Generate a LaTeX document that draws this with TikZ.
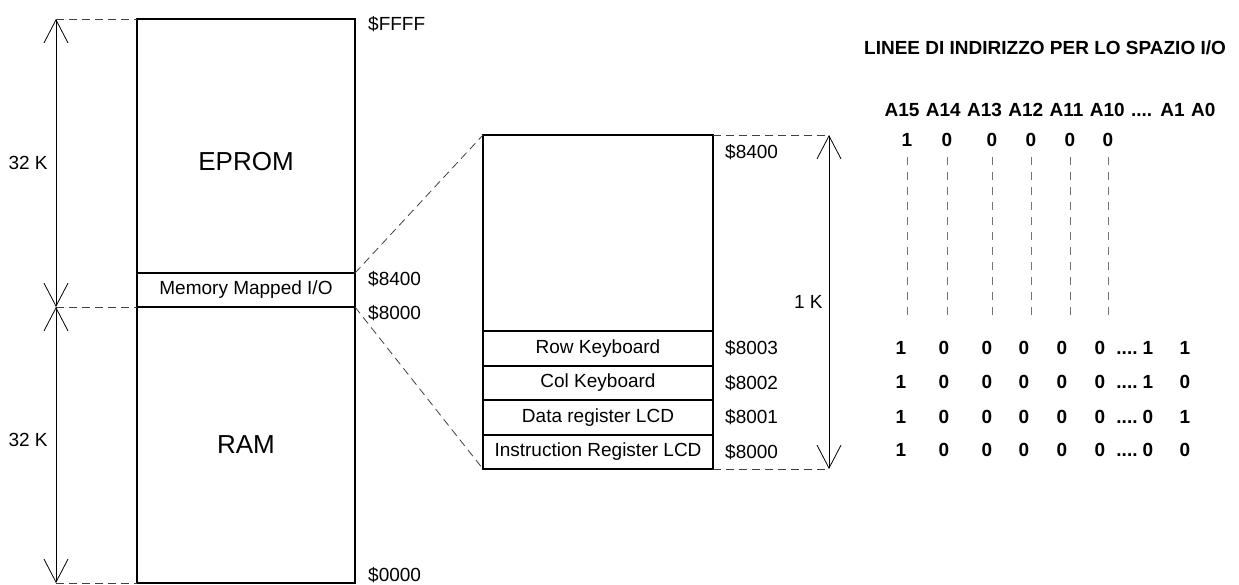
\documentclass[tikz,border=0pt]{standalone}
\usepackage{fontspec}
\setmainfont{Liberation Sans}
\usepackage{xcolor}
\usepackage{tikz}
\usetikzlibrary{arrows.meta, positioning}

\newcommand{\txtfont}{\fontsize{19}{22}\selectfont}
\newcommand{\bigtxtfont}{\fontsize{26}{30}\selectfont}
\newcommand{\fourdots}{....}

\tikzset{
    memblock/.style={draw, line width=2pt, outer sep=0pt, inner sep=0pt, font=\txtfont},
    addr/.style={inner sep=0pt, font=\txtfont},
    dimarrow/.style={line width=0.8pt,
        {Straight Barb[length=23pt,width=24pt]}-{Straight Barb[length=23pt,width=24pt]}},
    helpline/.style={dashed, dash pattern=on 8pt off 5pt, line width=0.8pt, black!75},
    guide/.style={dash pattern=on 8pt off 7pt, line width=1pt, black!55},
    bit/.style={inner sep=0pt, text height=13.6pt, text depth=0pt, font=\txtfont\bfseries}
}

\begin{document}
\begin{tikzpicture}[x=1pt, y=-1pt]
    \useasboundingbox (0,0) rectangle (1239,584);

    % memory map
    \node[memblock, minimum width=218pt, minimum height=254pt, anchor=north west,
        label={[font=\bigtxtfont, yshift=-16pt]center:EPROM}] (eprom) at (137,19) {};
    \node[memblock, minimum width=218pt, minimum height=34pt] (mmio) [below=0pt of eprom] {Memory Mapped I/O};
    \node[memblock, minimum width=218pt, minimum height=276pt, font=\bigtxtfont] (ram) [below=0pt of mmio] {RAM};

    \node[addr, anchor=west] (aFFFF) at ([shift={(13,5)}]eprom.north east) {\$FFFF};
    \node[addr, anchor=west] (a8400) at ([shift={(13,6)}]mmio.north east) {\$8400};
    \node[addr, anchor=west] (a8000) at ([shift={(13,6)}]ram.north east) {\$8000};
    \node[addr, anchor=west] (a0000) at ([shift={(13,-8)}]ram.south east) {\$0000};

    \coordinate[left=81pt of eprom.north west] (d0);
    \coordinate[left=81pt of ram.north west] (d1);
    \coordinate[left=81pt of ram.south west] (d2);
    \draw[helpline] (d0) -- (eprom.north west)
        (d1) -- (ram.north west)
        (d2) -- (ram.south west);
    \draw[dimarrow] (d0) -- node[addr, left=8pt] {32 K} (d1);
    \draw[dimarrow] (d1) -- node[addr, left=8pt, yshift=5pt] {32 K} (d2);

    % I/O space
    \node[memblock, minimum width=230pt, minimum height=196pt, anchor=north west] (iospace) at (483,135) {};
    \node[memblock, minimum width=230pt, minimum height=34.5pt] (rowkb) [below=0pt of iospace] {Row Keyboard};
    \node[memblock, minimum width=230pt, minimum height=34.5pt] (colkb) [below=0pt of rowkb] {Col Keyboard};
    \node[memblock, minimum width=230pt, minimum height=34.5pt] (datalcd) [below=0pt of colkb] {Data register LCD};
    \node[memblock, minimum width=230pt, minimum height=34.5pt] (instrlcd) [below=0pt of datalcd] {Instruction Register LCD};

    \node[addr, anchor=west] (io8400) at ([shift={(12,17)}]iospace.north east) {\$8400};
    \node[addr] (io8003) [right=12pt of rowkb] {\$8003};
    \node[addr] (io8002) [right=12pt of colkb] {\$8002};
    \node[addr] (io8001) [right=12pt of datalcd] {\$8001};
    \node[addr] (io8000) [right=12pt of instrlcd] {\$8000};

    \draw[helpline] (mmio.north east) -- (iospace.north west)
        (ram.north east) -- (instrlcd.south west);

    \coordinate[right=116pt of iospace.north east] (k0);
    \coordinate[right=116pt of instrlcd.south east] (k1);
    \draw[helpline] (iospace.north east) -- (k0)
        (instrlcd.south east) -- (k1);
    \draw[dimarrow] (k0) -- node[addr, left=6pt] {1 K} (k1);

    % address lines
    \node[bit] (title) at (1045,48) {LINEE DI INDIRIZZO PER LO SPAZIO I/O};
    \node[bit] (alines) at (1050,110) {\spaceskip=6.4pt A15 A14 A13 A12 A11 A10 \fourdots{} A1 A0};

    \foreach \x/\d [count=\i] in {907/1,947/0,992/0,1031/0,1070/0,1108/0} {
        \node[bit] (t\i) at (\x,140) {\d};
        \draw[guide] (\x,157) -- (\x,318);
    }

    \foreach \y/\p/\q [count=\r] in {348/1/1,382/1/0,417/0/1,450/0/0} {
        \foreach \x/\d [count=\c] in {901/1,944/0,987/0,1024/0,1062/0,1100/0,1127/\fourdots,1148/\p,1185/\q}
            \node[bit] (b\r-\c) at (\x,\y) {\d};
    }
\end{tikzpicture}
\end{document}
